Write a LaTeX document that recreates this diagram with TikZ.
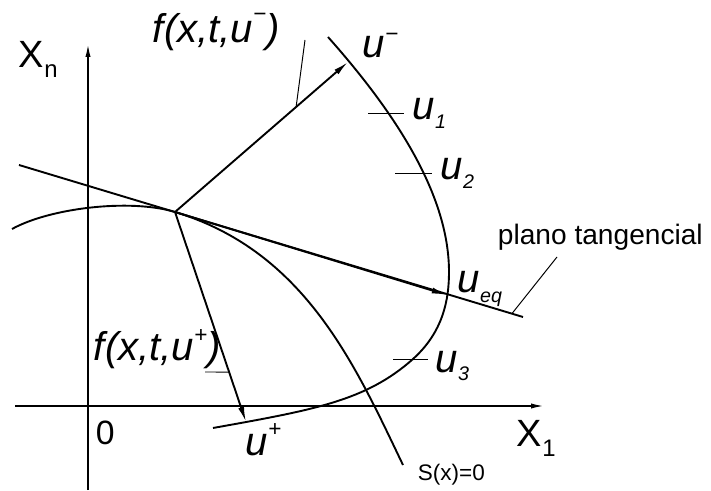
\documentclass[tikz,border=0pt]{standalone}
\usepackage{fontspec}
\setmainfont{Liberation Sans}
\usetikzlibrary{arrows.meta,calc}
\newcommand{\labfont}{\fontsize{28.5}{30}\selectfont}
\newcommand{\subtx}[2][-6pt]{\raisebox{#1}{\fontsize{14}{14}\selectfont #2}}
\newcommand{\suptx}[2][15pt]{\raisebox{#1}{\fontsize{16}{16}\selectfont #2}}
\newcommand{\axsub}[1]{\raisebox{-7pt}{\fontsize{17}{17}\selectfont #1}}
\begin{document}
\begin{tikzpicture}[x=0.025cm,y=-0.025cm,line width=1.35pt,
	ax/.style={-{Latex[length=3.5mm,width=1.3mm]}},
	vec/.style={-{Latex[length=3.8mm,width=1.5mm]}},
	leader/.style={line width=0.7pt},
	lab/.style={anchor=base west,inner sep=0pt,font=\labfont\itshape},
	axlab/.style={anchor=base west,inner sep=0pt,font=\fontsize{27}{30}\selectfont}]
			\useasboundingbox (0,0) rectangle (711,491);
			\coordinate (xstart) at (15,406);
			\coordinate (xend) at (545,406);
			\coordinate (ystart) at (88,490);
			\coordinate (yend) at (88,43);
			\coordinate (P) at (175,212);
			\coordinate (um) at (348,62);
			\coordinate (up) at (246,422);
			\coordinate (ueq) at (447,295);
			\coordinate (tl) at (19,165);
			\coordinate (tr) at (523,317);
			\draw[ax] (xstart) -- (xend);
			\draw[ax] (ystart) -- (yend);
			\draw (tl) -- (tr);
			\draw (12,229) .. controls (50,208) and (130,198.4) .. (P)
				.. controls (305,251.3) and (355,365) .. (403,465);
			\draw (328,37) .. controls (400,118) and (449,198) .. (449,272)
				.. controls (449,300) and (443,332) .. (413,359)
				.. controls (365.7,401.1) and (313.6,409.9) .. (213,428);
			\draw[vec] (P) -- (um);
			\draw[vec] (P) -- (up);
			\draw[vec] (P) -- (ueq);
			\draw[leader] (368,113) -- (404,113);
			\draw[leader] (395,173) -- (432,173);
			\draw[leader] (393,359) -- (428,359);
			\node[axlab] (xn) at (18,68) {X\axsub{n}};
			\node[axlab] (x1) at (516,447) {X\axsub{1}};
			\node[axlab,font=\fontsize{24}{26}\selectfont] (zero) at (95,445) {0};
			\node[lab] (fm) at (152,43) {f(x,t,u\suptx[15pt]{−})};
			\node[lab] (fp) at (93,361) {f(x,t,u\suptx[13pt]{+})};
			\node[lab] (uml) at (362,58) {u\suptx[12pt]{−}};
			\node[lab] (u1) at (412,120) {u\subtx{1}};
			\node[lab] (u2) at (440,180) {u\subtx{2}};
			\node[lab] (ueql) at (457,293) {u\subtx[-7pt]{eq}};
			\node[lab] (u3) at (435,372) {u\subtx{3}};
			\node[lab] (upl) at (245,455) {u\suptx[13pt]{+}};
			\node[axlab,font=\fontsize{20}{24}\selectfont] (plano) at (497,245) {plano tangencial};
			\node[axlab,font=\fontsize{16}{18}\selectfont] (sx) at (417,480) {S(x)=0};
			\coordinate (fmend) at (305,40);
			\coordinate (fpend) at (205,372);
			\coordinate (planoend) at (557,257);
			\draw[leader] ($(P)!0.7!(um)$) -- (fmend);
			\draw[leader] ($(P)!0.762!(up)$) -- (fpend);
			\draw[leader] ($(tl)!0.978!(tr)$) -- (planoend);
			\end{tikzpicture}
\end{document}
